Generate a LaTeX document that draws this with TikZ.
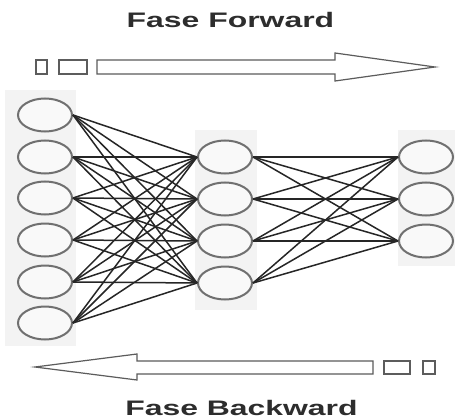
\documentclass[tikz,border=0pt]{standalone}
\usepackage{fontspec}
\setmainfont{Liberation Sans}
\usetikzlibrary{shapes.geometric}
\definecolor{ring}{RGB}{112,112,112}
\definecolor{wire}{RGB}{38,38,38}
\definecolor{colbg}{RGB}{243,243,243}
\definecolor{txt}{RGB}{45,45,45}
\tikzset{
  neuron/.style={ellipse, draw=ring, line width=2pt, fill=white!95!gray, minimum width=54pt, minimum height=33pt, inner sep=0pt},
  wired/.style={draw=wire, line width=1.5pt},
  bigarrow/.style={draw=wire!75, line width=1.2pt, fill=white},
  smallbox/.style={draw=wire!75, line width=1.2pt, fill=white},
  title/.style={font=\bfseries\fontsize{21}{24}\selectfont, text=txt, anchor=base, inner sep=0pt}
}
\begin{document}
\begin{tikzpicture}[x=1pt,y=-1pt]
\useasboundingbox (0,0) rectangle (455,420);
\fill[white] (0,0) rectangle (455,420);
% column backgrounds
\fill[colbg] (5,90) rectangle (76,346);
\fill[colbg] (195,130) rectangle (257,310);
\fill[colbg] (398,130) rectangle (455,266);
% titles
\node[title] (tf) at (230.5,28) {\scalebox{1.52}[1]{Fase Forward}};
\node[title] (tb) at (241.5,415) {\scalebox{1.52}[1]{Fase Backward}};
% forward arrow
\draw[smallbox] (36,60) rectangle (47,74);
\draw[smallbox] (59,60) rectangle (87,74);
\draw[bigarrow] (97,60) -- (335,60) -- (335,53) -- (435,67) -- (335,81) -- (335,74) -- (97,74) -- cycle;
% backward arrow
\draw[smallbox] (423,361) rectangle (435,374);
\draw[smallbox] (384,361) rectangle (410,374);
\draw[bigarrow] (373,361) -- (137,361) -- (137,354) -- (35,367) -- (137,380) -- (137,374) -- (373,374) -- cycle;
% input layer
\foreach \i/\y in {1/115,2/157,3/198,4/240,5/282,6/323}
  \node[neuron] (i\i) at (45,\y) {};
% hidden layer
\foreach \j/\y in {1/157,2/199,3/241,4/283}
  \node[neuron] (h\j) at (225,\y) {};
% output layer
\foreach \k/\y in {1/157,2/199,3/241}
  \node[neuron] (o\k) at (426,\y) {};
% connections
\foreach \i in {1,...,6}
  \foreach \j in {1,...,4}
    \draw[wired] (i\i.east) -- (h\j.west);
\foreach \j in {1,...,4}
  \foreach \k in {1,...,3}
    \draw[wired] (h\j.east) -- (o\k.west);
\end{tikzpicture}
\end{document}
